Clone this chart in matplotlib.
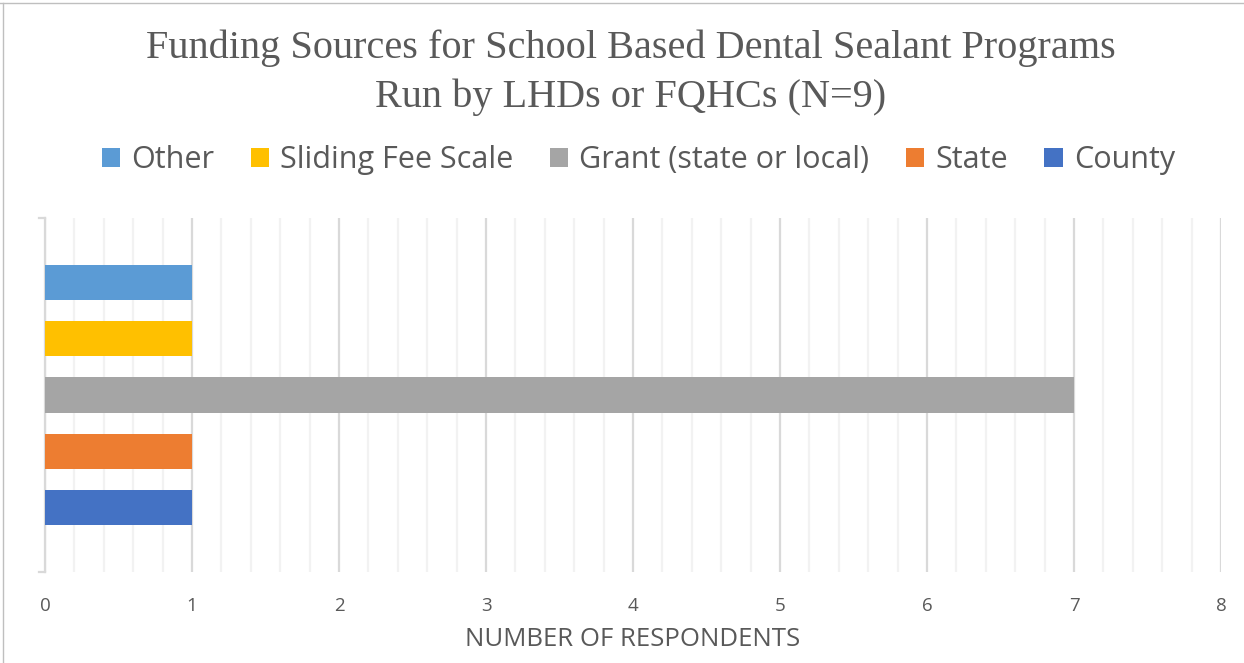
import matplotlib.pyplot as plt
from matplotlib.patches import Patch
from matplotlib.lines import Line2D
from matplotlib.ticker import MultipleLocator

# funding sources, bottom to top
sources = ["County", "State", "Grant (state or local)", "Sliding Fee Scale", "Other"]
respondents = [1, 1, 7, 1, 1]
colors = ["#4472C4", "#ED7D31", "#A5A5A5", "#FFC000", "#5B9BD5"]

W, H = 1244, 663
fig = plt.figure(figsize=(W / 100, H / 100), dpi=100)
ax = fig.add_axes([45 / W, 1 - 572 / H, (1221 - 45) / W, (572 - 218) / H])

ypos = list(range(len(sources)))
ax.barh(ypos, respondents, height=0.625, color=colors, zorder=3)

ax.set_xlim(0, 8)
ax.set_ylim(-1.15, 5.15)
ax.xaxis.set_major_locator(MultipleLocator(1))
ax.xaxis.set_minor_locator(MultipleLocator(0.2))
ax.grid(axis="x", which="major", color="#D9D9D9", linewidth=1.6, zorder=0)
ax.grid(axis="x", which="minor", color="#F2F2F2", linewidth=1.6, zorder=0)
ax.set_yticks([])
ax.tick_params(axis="x", which="both", length=0, pad=18, labelsize=13.5, labelcolor="#595959")
for lab in ax.get_xticklabels():
    lab.set_family("Open Sans")
for s in ["top", "right", "bottom"]:
    ax.spines[s].set_visible(False)
ax.spines["left"].set_color("#D9D9D9")
ax.spines["left"].set_linewidth(1.6)
# small end caps on the category axis
for yv in (-1.15, 5.15):
    ax.plot([-0.04, 0], [yv, yv], color="#D9D9D9", lw=1.6, clip_on=False, zorder=4)

ax.set_xlabel("NUMBER OF RESPONDENTS", fontsize=18.5, color="#595959",
              family="Open Sans", labelpad=9)

fig.text(0.507, 1 - 48 / H, "Funding Sources for School Based Dental Sealant Programs",
         ha="center", va="center", fontsize=29, color="#595959", family="Liberation Serif")
fig.text(0.507, 1 - 97 / H, "Run by LHDs or FQHCs (N=9)",
         ha="center", va="center", fontsize=29, color="#595959", family="Liberation Serif")

handles = [Patch(facecolor=c) for c in colors[::-1]]
leg = fig.legend(handles, sources[::-1], loc="center", bbox_to_anchor=(0.513, 1 - 160 / H),
                 ncol=5, frameon=False, handlelength=0.6, handleheight=0.6,
                 handletextpad=0.36, columnspacing=1.2,
                 prop={"family": "Open Sans", "size": 22})
for t in leg.get_texts():
    t.set_color("#595959")

# page frame lines
fig.add_artist(Line2D([0, 1], [1 - 3 / H, 1 - 3 / H], color="#BFBFBF", lw=1))
fig.add_artist(Line2D([3 / W, 3 / W], [0, 1 - 3 / H], color="#BFBFBF", lw=1))

fig.savefig("out.png", dpi=100)
